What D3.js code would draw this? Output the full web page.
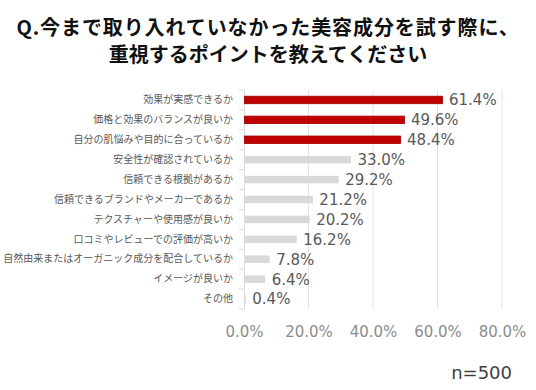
<!DOCTYPE html>
<html><head><meta charset="utf-8">
<script src="https://cdn.jsdelivr.net/npm/d3@7"></script>
<style>body{margin:0;background:#fff}svg{display:block}</style>
</head><body>
<svg id="c" width="536" height="390"></svg>
<script>
const categories = ["効果が実感できるか","価格と効果のバランスが良いか","自分の肌悩みや目的に合っているか","安全性が確認されているか","信頼できる根拠があるか","信頼できるブランドやメーカーであるか","テクスチャーや使用感が良いか","口コミやレビューでの評価が高いか","自然由来またはオーガニック成分を配合しているか","イメージが良いか","その他"];
const values = [61.4,49.6,48.4,33.0,29.2,21.2,20.2,16.2,7.8,6.4,0.4];
const highlighted = [true,true,true,false,false,false,false,false,false,false,false];
const xTicks = [0,20,40,60,80];
const titleLines = ["Q.今まで取り入れていなかった美容成分を試す際に、","重視するポイントを教えてください"];
const note = "n=500";

const svg = d3.select("#c");
const font = "'Noto Sans CJK JP', sans-serif";
const numFont = "'DejaVu Sans', sans-serif";
const x = d3.scaleLinear().domain([0,80]).range([244,502]);
const y = d3.scaleBand().domain(categories).range([90,309]);

// title
svg.append("g").selectAll("text").data(titleLines).join("text")
  .attr("x",268).attr("y",(d,i)=>35+i*27).attr("text-anchor","middle")
  .attr("font-family",font).attr("font-weight","bold").attr("font-size",20)
  .attr("letter-spacing",(d,i)=>i===0?0.9:0)
  .attr("fill","#111").text(d=>d);

// gridlines
svg.append("g").selectAll("line").data(xTicks.slice(1)).join("line")
  .attr("x1",d=>x(d)).attr("x2",d=>x(d)).attr("y1",90).attr("y2",309)
  .attr("stroke","#e3e3e3").attr("stroke-width",1);

// y axis
const yAxis = d3.axisLeft(y).tickSize(0).tickFormat(d=>d);
const yg = svg.append("g").attr("transform",`translate(${x(0)},0)`).call(yAxis);
yg.select(".domain").attr("stroke","#d9d9d9");
yg.selectAll("text").attr("font-family",font).attr("font-size",10).attr("fill","#595959").attr("dx",-8);
// band separators ticks
svg.append("g").selectAll("line").data(d3.range(categories.length+1)).join("line")
  .attr("x1",x(0)-5).attr("x2",x(0))
  .attr("y1",i=>90+i*y.step()).attr("y2",i=>90+i*y.step())
  .attr("stroke","#d9d9d9");

// bars
const bh = 7.5;
svg.append("g").selectAll("rect").data(values).join("rect")
  .attr("x",x(0)+0.5).attr("y",(d,i)=>y(categories[i])+y.bandwidth()/2-bh/2)
  .attr("width",d=>x(d)-x(0)).attr("height",bh)
  .attr("fill",(d,i)=>highlighted[i]?"#c00000":"#d9d9d9")
  .attr("stroke",(d,i)=>highlighted[i]?"#a00000":"none").attr("stroke-width",0.8);

// value labels
svg.append("g").selectAll("text").data(values).join("text")
  .attr("x",d=>x(d)+7).attr("y",(d,i)=>y(categories[i])+y.bandwidth()/2)
  .attr("dy","0.36em").attr("font-family",numFont).attr("font-size",15)
  .attr("fill","#595959").text(d=>d.toFixed(1)+"%");

// x axis labels
const xAxis = d3.axisBottom(x).tickValues(xTicks).tickSize(0).tickFormat(d=>d.toFixed(1)+"%");
const xg = svg.append("g").attr("transform","translate(0,309)").call(xAxis);
xg.select(".domain").remove();
xg.selectAll("text").attr("font-family",numFont).attr("font-size",15).attr("fill","#8c8c8c").attr("dy","0").attr("y",28);

svg.append("text").attr("x",512).attr("y",379).attr("text-anchor","end")
  .attr("font-family",numFont).attr("font-size",18).attr("fill","#404040").text(note);
</script>
</body></html>
